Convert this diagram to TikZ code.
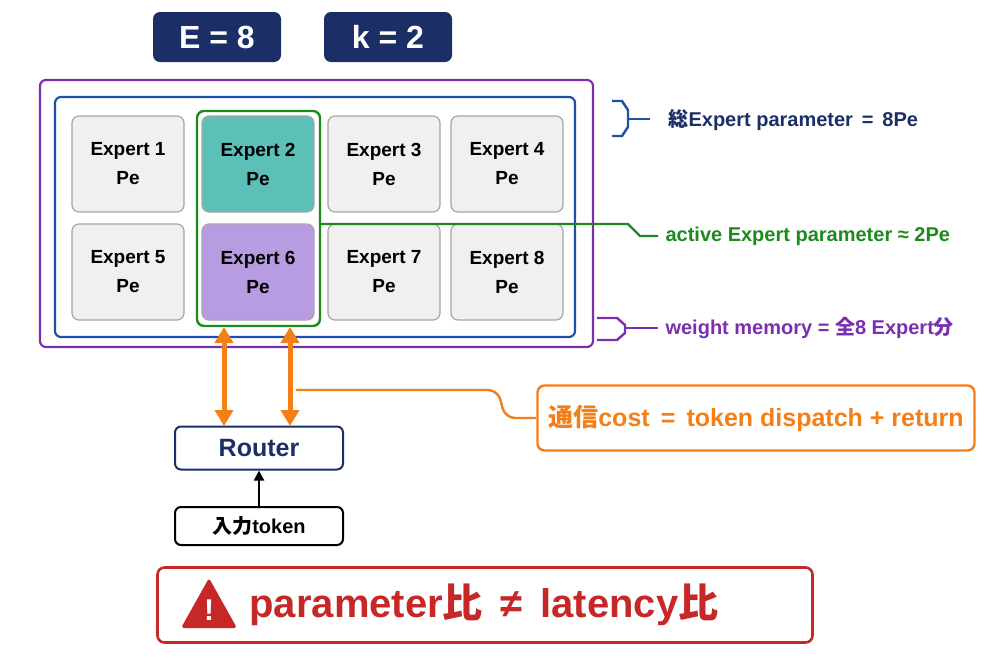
\documentclass[tikz,border=0pt]{standalone}
\usepackage{fontspec}
\setmainfont{Liberation Sans}
\newfontfamily\cjk{Noto Sans CJK JP}
\usetikzlibrary{positioning,shapes,arrows.meta,fit}
\definecolor{navy}{HTML}{1B2F66}
\definecolor{teal2}{HTML}{5CC0B8}
\definecolor{lila}{HTML}{B89CE2}
\definecolor{purp}{HTML}{7A2FB0}
\definecolor{grn}{HTML}{1E8A1E}
\definecolor{orng}{HTML}{F57F17}
\definecolor{redd}{HTML}{C62828}
\definecolor{blu}{HTML}{1F4FA8}
\tikzset{
  expert/.style={draw=gray!70,fill=gray!12,rounded corners=7pt,minimum width=112pt,minimum height=96pt,align=center,font=\bfseries\fontsize{19}{29}\selectfont,line width=1.2pt},
  title/.style={fill=navy,rounded corners=7pt,text=white,minimum width=128pt,minimum height=50pt,font=\bfseries\fontsize{32}{32}\selectfont},
  plain/.style={draw,rounded corners=6pt,line width=2pt,minimum width=168pt,align=center},
  lbl/.style={anchor=west,font=\bfseries\fontsize{20}{22}\selectfont}
}
\begin{document}
\begin{tikzpicture}[x=1pt,y=-1pt]
  \useasboundingbox (0,0) rectangle (1000,667);
  \node [title] (E) at (217,37) {E = 8};
  \node [title] (K) at (388,37) {k = 2};
  \draw [purp,line width=2.2pt,rounded corners=6pt] (40,80) rectangle (593,347);
  \draw [blu,line width=2.2pt,rounded corners=6pt] (55,97) rectangle (575,337);
  \node [expert] (e1) at (128,164) {Expert 1\\Pe};
  \node [expert,fill=teal2] (e2) at (258,164) {Expert 2\\Pe};
  \node [expert] (e3) at (384,164) {Expert 3\\Pe};
  \node [expert] (e4) at (507,164) {Expert 4\\Pe};
  \node [expert] (e5) at (128,272) {Expert 5\\Pe};
  \node [expert,fill=lila] (e6) at (258,272) {Expert 6\\Pe};
  \node [expert] (e7) at (384,272) {Expert 7\\Pe};
  \node [expert] (e8) at (507,272) {Expert 8\\Pe};
  \draw [grn,line width=2.4pt,rounded corners=7pt] (197,111) rectangle (320,326);
  % right labels
  \draw [blu,line width=2.4pt] (612,101) -- (622,101) -- (628,110) -- (628,127) -- (622,136) -- (612,136);
  \draw [blu,line width=2.4pt] (628,119) -- (650,119);
  \node [lbl,text=navy] (tot) at (665,120) {{\cjk 総}Expert parameter\, = \,8Pe};
  \draw [grn,line width=2.4pt] (320,224) -- (628,224) -- (640,236) -- (658,236);
  \node [lbl,text=grn] (act) at (662,236) {active Expert parameter ≈ 2Pe};
  \draw [purp,line width=2.4pt] (597,318) -- (617,318) -- (625,325) -- (625,333) -- (617,340) -- (597,340);
  \draw [purp,line width=2.4pt] (625,328) -- (658,328);
  \node [lbl,text=purp] (mem) at (662,328) {weight memory = {\cjk 全}8 Expert{\cjk 分}};
  % router
  \node [plain,draw=navy,minimum height=43pt,text=navy,font=\bfseries\fontsize{25}{25}\selectfont] (router) at (259,448) {Router};
  \node [plain,minimum height=38pt,font=\bfseries\fontsize{20}{20}\selectfont] (inp) at (259,526) {{\cjk 入力}token};
  \draw [-{Triangle[length=10pt,width=10pt]},line width=2pt] (inp) -- (router);
  \coordinate (a1t) at (224,327); \coordinate (a1b) at (224,426);
  \coordinate (a2t) at (290,327); \coordinate (a2b) at (290,426);
  \draw [{Triangle[length=16pt,width=18pt]}-{Triangle[length=16pt,width=18pt]},orng,line width=5pt] (a1t) -- (a1b);
  \draw [{Triangle[length=16pt,width=18pt]}-{Triangle[length=16pt,width=18pt]},orng,line width=5pt] (a2t) -- (a2b);
  \node [draw=orng,rounded corners=7pt,line width=2.4pt,minimum width=437pt,minimum height=65pt,text=orng,font=\bfseries\fontsize{25}{25}\selectfont] (comm) at (756,418) {{\cjk 通信}cost\, = \,token dispatch + return};
  \draw [orng,line width=2.4pt,rounded corners=10pt] (296,390) -- (498,390) -- (505,418) -- (comm.west);
  % warning
  \node [draw=redd,rounded corners=7pt,line width=2.6pt,minimum width=655pt,minimum height=75pt] (warn) at (485,605) {};
  \fill [redd,rounded corners=3pt] (181,628) -- (209,578) -- (237,628) -- cycle;
  \node [text=white,font=\bfseries\fontsize{30}{30}\selectfont] (bang) at (209,610) {!};
  \node [anchor=west,text=redd,font=\bfseries\fontsize{40}{40}\selectfont] (wt) at (246,605) {parameter{\cjk 比}\, ≠ \,latency{\cjk 比}};
\end{tikzpicture}
\end{document}
